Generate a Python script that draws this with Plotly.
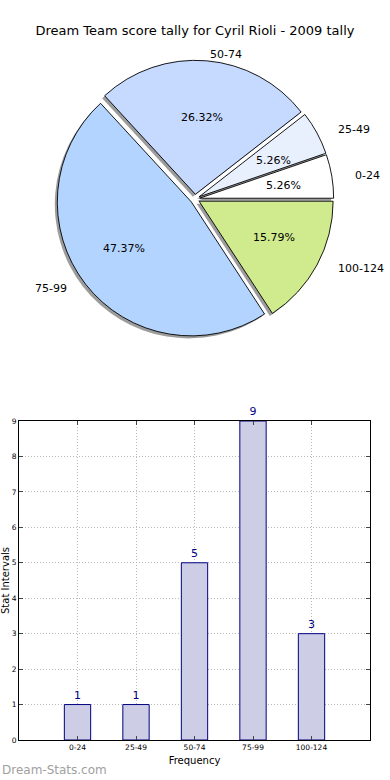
import math
import plotly.graph_objects as go

# ---- data ----
categories = ["0-24", "25-49", "50-74", "75-99", "100-124"]
counts = [1, 1, 5, 9, 3]
pie_colors = ["#ffffff", "#e8f0fe", "#c6d9fe", "#b3d4ff", "#d0eb8d"]
y_ticks = [0, 1, 2, 3, 4, 5, 6, 7, 8, 9]

W, H = 390, 780
FONT = "DejaVu Sans"

# pie geometry (pixels)
cx, cy = 195, 199
r = 134
pull = 0.035
half = r * (1 + pull)
# text placement radii (matplotlib-style label / pct distances)
RX, RY = 141, 128
LABEL_DIST, PCT_DIST = 1.1, 0.6

total = sum(counts)
# plotly: with counterclockwise direction the first slice ends at `rotation`;
# we want the first slice to start at 3 o'clock (90 deg clockwise from top)
rotation = 90 - 360 * counts[0] / total


def dom(dx=0.0, dy=0.0):
    return dict(
        x=[(cx - half + dx) / W, (cx + half + dx) / W],
        y=[(H - (cy + half + dy)) / H, (H - (cy - half + dy)) / H],
    )


common = dict(
    labels=categories, values=counts, sort=False, direction="counterclockwise",
    rotation=rotation, pull=[pull] * len(counts), showlegend=False, hoverinfo="skip",
    textinfo="none",
)

fig = go.Figure()
# shadow
fig.add_trace(go.Pie(
    **common, domain=dom(-2.5, 2.5),
    marker=dict(colors=["#9c9c9c"] * len(counts), line=dict(width=0)),
))
# main pie
fig.add_trace(go.Pie(
    **common, domain=dom(),
    marker=dict(colors=pie_colors, line=dict(color="#000000", width=0.9)),
))

# labels and percentages placed from the data (cumulative angles)
annotations = []
cum = 0
for lab, c in zip(categories, counts):
    frac = c / total
    mid = math.radians((cum + frac / 2) * 360)
    cum += frac
    ca, sa = math.cos(mid), math.sin(mid)
    lx = cx + (LABEL_DIST + pull) * RX * ca
    ly = cy - (LABEL_DIST + pull) * RY * sa
    annotations.append(dict(
        text=lab, x=lx / W, y=1 - ly / H, xref="paper", yref="paper",
        xanchor="left" if ca > 0 else "right", yanchor="middle", showarrow=False,
        font=dict(family=FONT, size=11, color="#000000"),
    ))
    px = cx + (PCT_DIST + pull) * RX * ca
    py = cy - (PCT_DIST + pull) * RY * sa
    annotations.append(dict(
        text=f"{frac * 100:.2f}%", x=px / W, y=1 - py / H, xref="paper", yref="paper",
        xanchor="center", yanchor="middle", showarrow=False,
        font=dict(family=FONT, size=11, color="#000000"),
    ))

annotations.append(dict(
    text="Dream-Stats.com", x=0, y=1 - 770 / H, xref="paper", yref="paper",
    xanchor="left", yanchor="middle", showarrow=False,
    font=dict(family=FONT, size=12, color="#a0a0a0"),
))

# bar chart
fig.add_trace(go.Bar(
    x=list(range(len(categories))), y=counts, width=0.45,
    marker=dict(color="#cdcee6", line=dict(color="#000080", width=1)),
    text=[str(c) for c in counts], textposition="outside",
    textfont=dict(family=FONT, size=11, color="#000080"),
    cliponaxis=False, showlegend=False, hoverinfo="skip",
    xaxis="x", yaxis="y",
))

grid = dict(showgrid=True, gridcolor="#b8b8b8", griddash="1px,2px", gridwidth=1)

fig.update_layout(
    width=W, height=H, margin=dict(l=0, r=0, t=0, b=0, autoexpand=False),
    paper_bgcolor="white", plot_bgcolor="white",
    font=dict(family=FONT, color="#000000"),
    title=dict(text="Dream Team score tally for Cyril Rioli - 2009 tally",
               x=0.5, xanchor="center", y=1 - 30 / H, yanchor="middle",
               font=dict(family=FONT, size=13, color="#000000")),
    xaxis=dict(
        domain=[19 / W, 370 / W], range=[-1, 5], automargin=False,
        tickmode="array", tickvals=list(range(len(categories))), ticktext=categories,
        tickfont=dict(family=FONT, size=7.5), ticks="inside", ticklen=4,
        showline=True, linecolor="#000000", linewidth=1, mirror="ticks",
        zeroline=False, fixedrange=True, **grid,
        title=dict(text="Frequency", font=dict(family=FONT, size=10), standoff=5),
    ),
    yaxis=dict(
        domain=[(H - 740) / H, (H - 421) / H], range=[0, 9], automargin=False,
        tickmode="array", tickvals=y_ticks, ticktext=[str(v) for v in y_ticks],
        tickfont=dict(family=FONT, size=7.5), ticks="inside", ticklen=4,
        showline=True, linecolor="#000000", linewidth=1, mirror="ticks",
        zeroline=False, fixedrange=True, **grid,
        title=dict(text="Stat Intervals", font=dict(family=FONT, size=10), standoff=2),
    ),
    annotations=annotations,
)

fig.write_html("out.html", config={"displayModeBar": False},
               post_script="document.body.style.margin='0';")
